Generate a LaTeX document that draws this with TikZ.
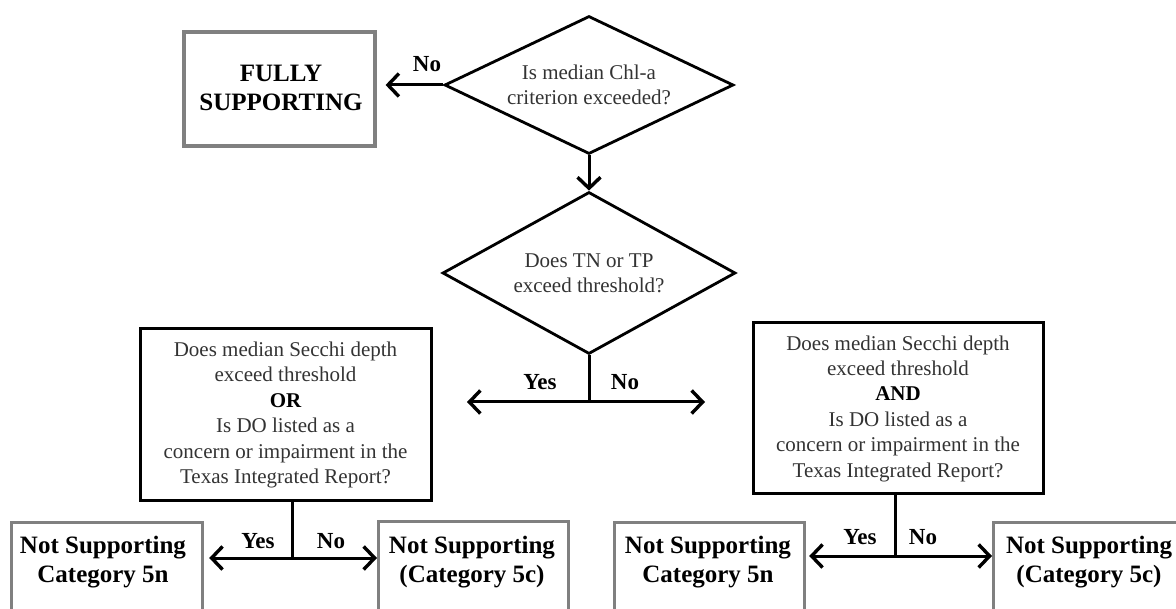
\documentclass[tikz,border=0pt]{standalone}
\usepackage{fontspec}
\setmainfont{Liberation Serif}
\usetikzlibrary{shapes.geometric,arrows.meta}
\begin{document}
\begin{tikzpicture}[x=1pt,y=-1pt,
  line width=3pt,
  qtext/.style={font=\fontsize{21}{25.4}\selectfont, text=black!80, align=center},
  dia/.style={diamond, aspect=2, draw, line width=2.8pt, inner sep=0pt, qtext},
  qbox/.style={rectangle, draw, line width=3pt, inner sep=0pt, qtext},
  gbox/.style={rectangle, draw=black!50, line width=3.2pt, inner sep=0pt},
  btext/.style={font=\bfseries\fontsize{25}{29.5}\selectfont, align=center, inner sep=0pt},
  lab/.style={font=\bfseries\fontsize{23}{27}\selectfont, inner sep=0pt},
  arr/.style={-{Straight Barb[length=11pt,width=23pt,line width=3.4pt]}, line width=3pt},
  conn/.style={line width=3pt}
]
\useasboundingbox (0,0) rectangle (1176,609);

% top outcome
\node[gbox, minimum width=191pt, minimum height=114pt] (fs) at (279.5,89) {};
\node[btext] (fst) at (281,88) {FULLY\\SUPPORTING};

% diamonds
\node[dia, minimum width=289pt, minimum height=138pt] (d1) at (589,85) {Is median Chl-a\\criterion exceeded?};
\node[dia, minimum width=293pt, minimum height=162pt] (d2) at (589,273) {Does TN or TP\\exceed threshold?};

\draw[arr, shorten >=9pt] (d1.west) -- (d1.west -| fs.east);
\node[lab] (no1) at (427,64) {No};
\draw[arr] (d1.south) -- (d2.north);

% split below diamond 2
\coordinate (j2) at (589,402);
\coordinate (yesE) at (467,402);
\coordinate (noE) at (705,402);
\draw[conn] (d2.south) -- (j2);
\draw[arr] (j2) -- (yesE);
\draw[arr] (j2) -- (noE);
\node[lab] (yes2) at (540,382) {Yes};
\node[lab] (no2) at (625,382) {No};

% question boxes
\node[qbox, minimum width=291pt, minimum height=172pt] (qL) at (285.5,415)
  {Does median Secchi depth\\exceed threshold\\\textbf{\color{black}OR}\\Is DO listed as a\\concern or impairment in the\\Texas Integrated Report?};
\node[qbox, minimum width=290pt, minimum height=171pt] (qR) at (898,408.5)
  {Does median Secchi depth\\exceed threshold\\\textbf{\color{black}AND}\\Is DO listed as a\\concern or impairment in the\\Texas Integrated Report?};

% outcome frames
\node[gbox, minimum width=191pt, minimum height=120pt, anchor=north west] (oL1) at (10,521) {};
\node[gbox, minimum width=190pt, minimum height=120pt, anchor=north west] (oL2) at (377,520) {};
\node[gbox, minimum width=190pt, minimum height=120pt, anchor=north west] (oR1) at (613,521) {};
\node[gbox, minimum width=194pt, minimum height=120pt, anchor=north west] (oR2) at (992,521) {};

\node[btext] (tL1) at (103,562) {Not Supporting\\Category 5n};
\node[btext] (tL2) at (472,562) {Not Supporting\\(Category 5c)};
\node[btext] (tR1) at (708,562) {Not Supporting\\Category 5n};
\node[btext] (tR2) at (1089,562) {Not Supporting\\(Category 5c)};

% left split
\coordinate (jL) at (292,558);
\draw[conn] (qL.south -| jL) -- (jL);
\draw[arr, shorten >=5pt] (jL) -- (jL -| oL1.east);
\draw[arr] (jL) -- (jL -| oL2.west);
\node[lab] (yesL) at (258,541) {Yes};
\node[lab] (noL) at (331,541) {No};

% right split
\coordinate (jR) at (895,556);
\draw[conn] (qR.south -| jR) -- (jR);
\draw[arr, shorten >=3pt] (jR) -- (jR -| oR1.east);
\draw[arr] (jR) -- (jR -| oR2.west);
\node[lab] (yesR) at (860,537) {Yes};
\node[lab] (noR) at (923,537) {No};
\end{tikzpicture}
\end{document}
